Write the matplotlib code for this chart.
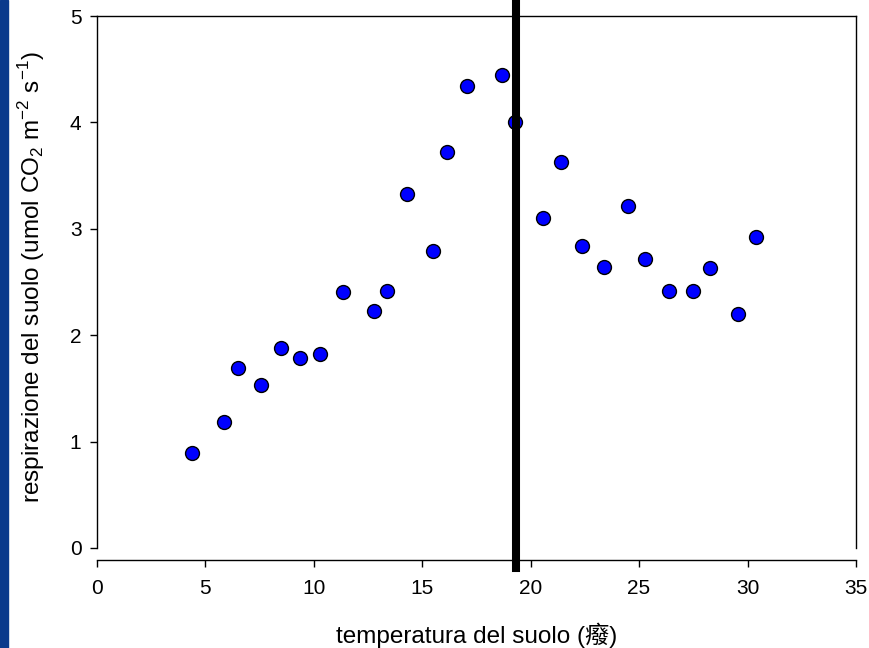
import matplotlib
matplotlib.use("Agg")
import matplotlib.pyplot as plt

plt.rcParams['font.family'] = ['Liberation Sans', 'Noto Sans CJK SC', 'DejaVu Sans']
plt.rcParams['mathtext.fontset'] = 'custom'
plt.rcParams['mathtext.rm'] = 'Liberation Sans'

# soil temperature (x) and soil respiration (y)
temp = [4.38, 5.87, 6.50, 7.57, 8.48, 9.37, 10.30, 11.37, 12.78, 13.40,
        14.29, 15.49, 16.16, 17.07, 18.69, 19.30, 20.59, 21.39, 22.39, 23.39,
        24.48, 25.28, 26.39, 27.48, 28.28, 29.58, 30.38]
resp = [0.89, 1.18, 1.69, 1.53, 1.88, 1.79, 1.82, 2.41, 2.23, 2.42,
        3.33, 2.79, 3.72, 4.34, 4.45, 4.00, 3.10, 3.63, 2.84, 2.64,
        3.21, 2.72, 2.42, 2.42, 2.63, 2.20, 2.92]
threshold = 19.33

xticks = [0, 5, 10, 15, 20, 25, 30, 35]
yticks = [0, 1, 2, 3, 4, 5]

fig = plt.figure(figsize=(8.69, 6.48), dpi=100)
# blue strip on left edge
fig.patches.append(plt.Rectangle((0, 0), 0.0092, 1, transform=fig.transFigure,
                                 color='#0a3a8c', zorder=0))

ax = fig.add_axes([0.1113, 0.1358, 0.8737, 0.8395])
ax.scatter(temp, resp, s=100, c='#0000ff', edgecolors='black', linewidths=1.0, zorder=3)
ax.axvline(threshold, ymin=-0.0147, ymax=1.03, color='black', lw=5.8, clip_on=False, zorder=4)

ax.set_xlim(0, 35)
ax.set_ylim(-0.113, 5)
ax.set_xticks(xticks)
ax.set_yticks(yticks)
ax.spines['left'].set_bounds(0, 5)
ax.spines['right'].set_bounds(0, 5)
for s in ax.spines.values():
    s.set_linewidth(1.0)
ax.tick_params(direction='out', length=5, width=1.0, labelsize=15, pad=9)
ax.tick_params(axis='y', pad=6)

ax.set_xlabel('temperatura del suolo (癈)', fontsize=17.5)
ax.set_ylabel('respirazione del suolo (umol CO$_2$ m$^{-2}$ s$^{-1}$)', fontsize=17.5)
ax.xaxis.set_label_coords(0.5, -0.115)
ax.yaxis.set_label_coords(-0.066, 0.52)

fig.savefig('out.png', dpi=100)
